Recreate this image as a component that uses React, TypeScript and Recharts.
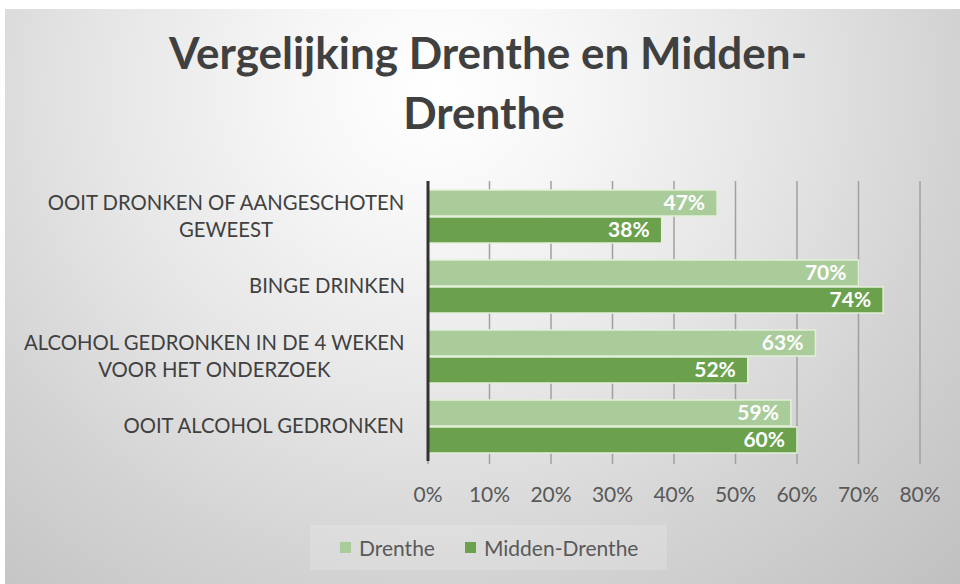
import React from 'react';
import { BarChart, Bar, XAxis, YAxis, CartesianGrid, Legend, LabelList } from 'recharts';

// ---- data ----
const categories = [
  'OOIT DRONKEN OF AANGESCHOTEN\nGEWEEST',
  'BINGE DRINKEN',
  'ALCOHOL GEDRONKEN IN DE 4 WEKEN\nVOOR HET ONDERZOEK',
  'OOIT ALCOHOL GEDRONKEN',
];
const drenthe = [47, 70, 63, 59];
const middenDrenthe = [38, 74, 52, 60];
const xTicks = [0, 10, 20, 30, 40, 50, 60, 70, 80];
const seriesNames = ['Drenthe', 'Midden-Drenthe'];
const titleLines = ['Vergelijking Drenthe en Midden-', 'Drenthe'];

const data = categories.map((name, i) => ({
  name,
  drenthe: drenthe[i],
  midden: middenDrenthe[i],
}));

const FONT = "Lato, 'Open Sans', 'DejaVu Sans', sans-serif";
const LABEL_SIZE = 20.3;
const TICK_SIZE = 21;
const COLORS = ['#a9cc9a', '#6ba14d'];

let measureCtx: CanvasRenderingContext2D | null = null;
function measure(text: string, font: string): number {
  if (!measureCtx) {
    const c = document.createElement('canvas');
    measureCtx = c.getContext('2d');
  }
  if (!measureCtx) return text.length * 11;
  measureCtx.font = font;
  return measureCtx.measureText(text).width;
}

const CategoryTick = (props: any) => {
  const { x, y, payload } = props;
  const lines = String(payload.value).split('\n');
  const widths = lines.map((l) => measure(l, `${LABEL_SIZE}px Lato`));
  const block = Math.max(...widths);
  const cx = x - block / 2;
  const lh = 26.7;
  const y0 = y - ((lines.length - 1) * lh) / 2;
  return (
    <text textAnchor="middle" fill="#404040" fontSize={LABEL_SIZE} fontFamily={FONT}>
      {lines.map((l, i) => (
        <tspan key={i} x={cx} y={y0 + i * lh} dy="0.36em">
          {l}
        </tspan>
      ))}
    </text>
  );
};

const PercentTick = (props: any) => {
  const { x, y, payload } = props;
  return (
    <text x={x} y={y} dy="0.71em" textAnchor="middle" fill="#595959" fontSize={TICK_SIZE} fontFamily={FONT}>
      {`${payload.value}%`}
    </text>
  );
};

const LegendContent = () => (
  <div
    style={{
      width: 357,
      height: 45,
      boxSizing: 'border-box',
      background: 'rgba(255,255,255,0.16)',
      display: 'flex',
      alignItems: 'center',
      paddingLeft: 30,
      fontFamily: FONT,
      fontSize: TICK_SIZE,
      color: '#595959',
      whiteSpace: 'nowrap',
    }}
  >
    {seriesNames.map((n, i) => (
      <div key={n} style={{ display: 'flex', alignItems: 'center', marginRight: i === 0 ? 30 : 0, flexShrink: 0 }}>
        <div style={{ width: 11, height: 11, background: COLORS[i], marginRight: 8, flexShrink: 0 }} />
        <span>{n}</span>
      </div>
    ))}
  </div>
);

export default function App() {
  return (
    <div style={{ position: 'fixed', left: 0, top: 0, width: 960, height: 584, background: '#ffffff', overflow: 'hidden' }}>
      <div
        style={{
          position: 'absolute',
          left: 5,
          top: 9,
          width: 955,
          height: 575,
          background:
            'radial-gradient(ellipse farthest-corner at 45% 14%, #ffffff 0%, #f7f7f7 18%, #e6e6e6 45%, #d3d3d3 70%, #c0c0c0 100%)',
        }}
      />
      <svg width={960} height={584} style={{ position: 'absolute', left: 0, top: 0 }}>
        <text x={488} y={69} textAnchor="middle" fill="#404040" fontSize={44} fontWeight={700} fontFamily={FONT}>
          {titleLines[0]}
        </text>
        <text x={484} y={129} textAnchor="middle" fill="#404040" fontSize={44} fontWeight={700} fontFamily={FONT}>
          {titleLines[1]}
        </text>
      </svg>
      <div style={{ position: 'absolute', left: 0, top: 0 }}>
        <BarChart
          width={960}
          height={584}
          data={data}
          layout="vertical"
          margin={{ top: 181, right: 40, bottom: 83, left: 0 }}
          barSize={26}
          barGap={1}
        >
          <CartesianGrid horizontal={false} stroke="#a0a0a0" strokeWidth={1.5} />
          <XAxis
            type="number"
            domain={[0, 80]}
            ticks={xTicks}
            height={40}
            axisLine={false}
            tickLine={{ stroke: '#a0a0a0', strokeWidth: 1.5 }}
            tickSize={3}
            tickMargin={23}
            tick={<PercentTick />}
            interval={0}
          />
          <YAxis
            type="category"
            dataKey="name"
            width={428}
            axisLine={{ stroke: '#333333', strokeWidth: 3 }}
            tickLine={false}
            tickSize={0}
            tickMargin={23}
            tick={<CategoryTick />}
            interval={0}
          />
          <Legend
            layout="horizontal"
            verticalAlign="middle"
            align="center"
            content={<LegendContent />}
            wrapperStyle={{ position: 'absolute', left: 310, top: 525, width: 357, height: 45 }}
          />
          <Bar dataKey="drenthe" name={seriesNames[0]} fill={COLORS[0]} stroke="#e2f0d9" strokeWidth={1.5} isAnimationActive={false}>
            <LabelList
              dataKey="drenthe"
              position="insideRight"
              offset={12}
              fill="#ffffff"
              fontSize={21}
              fontWeight={700}
              fontFamily={FONT}
              formatter={(v: any) => `${v}%`}
            />
          </Bar>
          <Bar dataKey="midden" name={seriesNames[1]} fill={COLORS[1]} stroke="#e2f0d9" strokeWidth={1.5} isAnimationActive={false}>
            <LabelList
              dataKey="midden"
              position="insideRight"
              offset={12}
              fill="#ffffff"
              fontSize={21}
              fontWeight={700}
              fontFamily={FONT}
              formatter={(v: any) => `${v}%`}
            />
          </Bar>
        </BarChart>
      </div>
    </div>
  );
}
